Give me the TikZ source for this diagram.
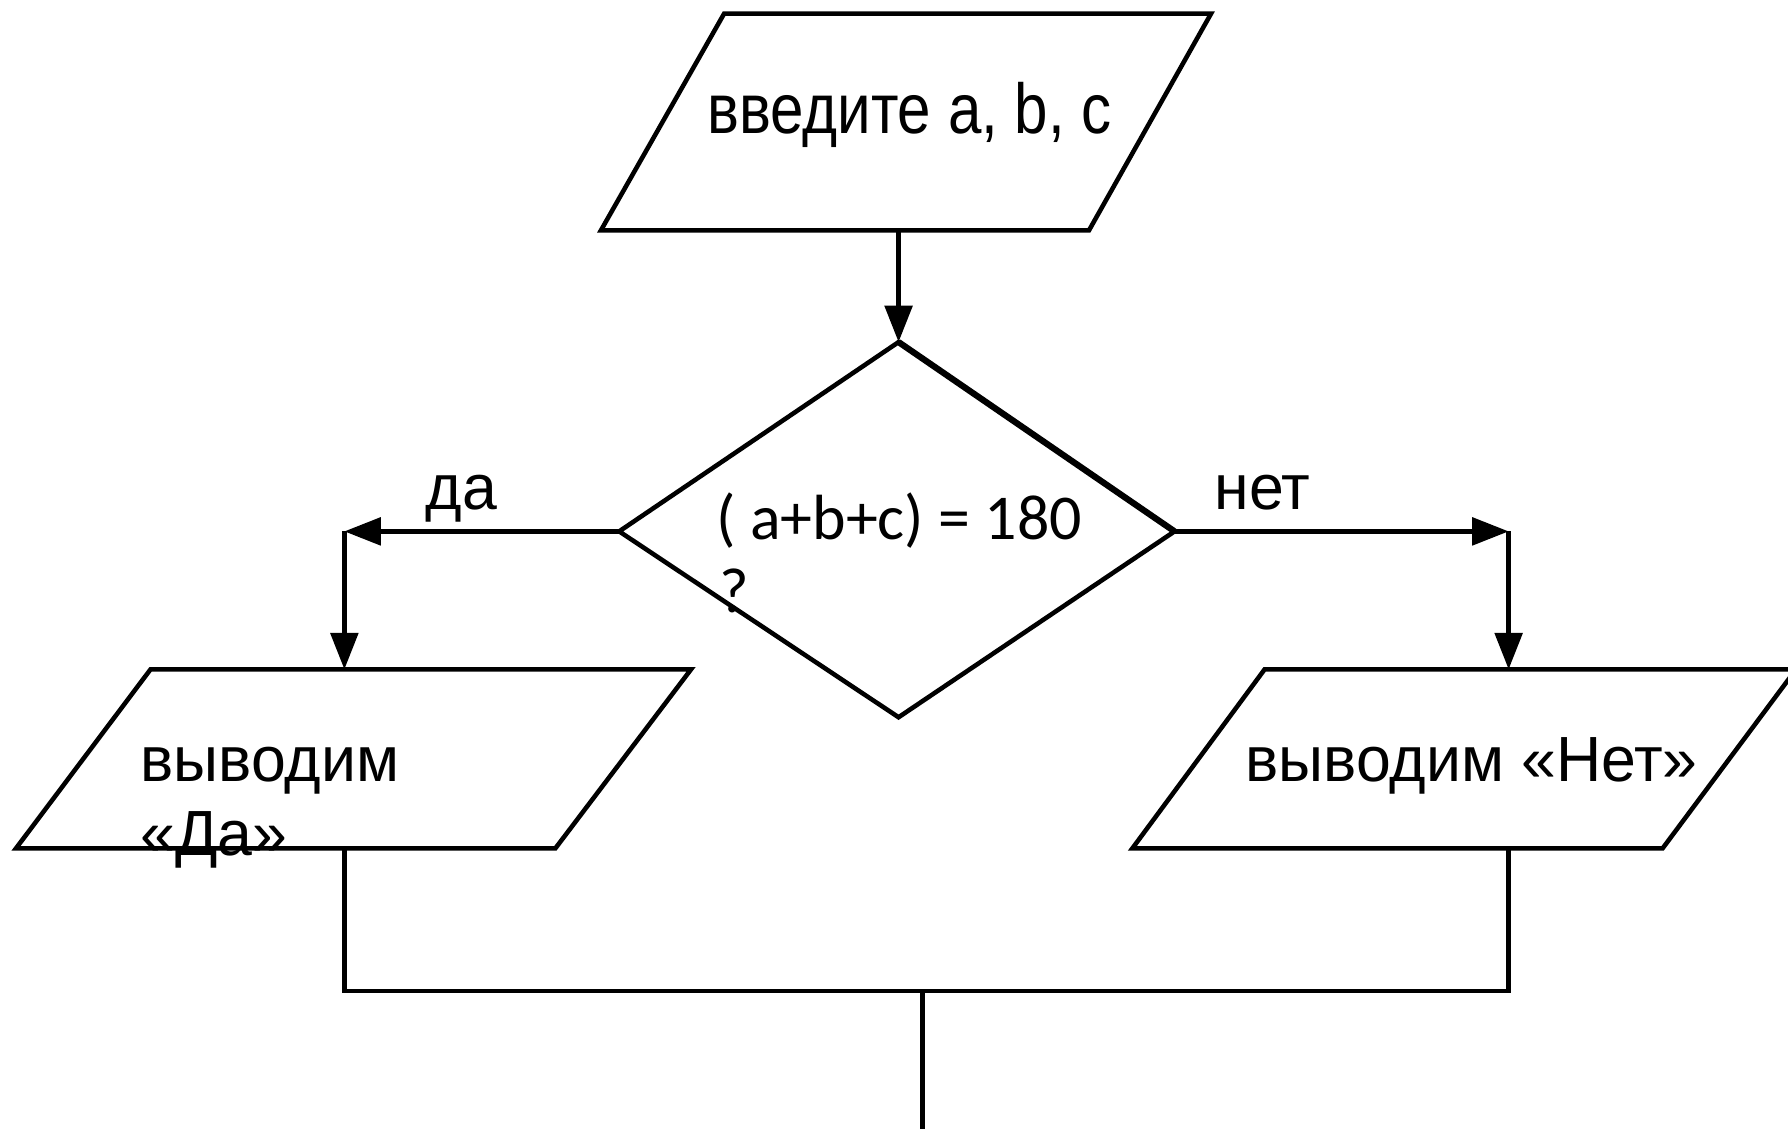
\documentclass[tikz,border=0pt]{standalone}
\usepackage{fontspec}
\setmainfont{Liberation Sans}
\newfontfamily\narrowfont[FakeStretch=0.85]{Liberation Sans}
\newfontfamily\outfont[FakeStretch=0.98]{Liberation Sans}
\newfontfamily\calfont{Carlito}
\usetikzlibrary{arrows.meta}
\begin{document}
\begin{tikzpicture}[x=1pt,y=-1pt,
  shapeline/.style={draw=black, line width=4pt, line join=miter},
  conn/.style={draw=black, line width=4pt},
  arr/.style={-{Triangle[length=32pt,width=24pt]}},
  txt/.style={inner sep=0pt, anchor=base west, font=\narrowfont\fontsize{62}{64}\selectfont},
  outtxt/.style={inner sep=0pt, anchor=base west, font=\outfont\fontsize{56}{60}\selectfont},
  condtxt/.style={inner sep=0pt, anchor=base west, font=\calfont\fontsize{56}{60}\selectfont}]
\useasboundingbox (0,0) rectangle (1568,990);
% input parallelogram
\coordinate (inTL) at (635,12);
\coordinate (inTR) at (1062,12);
\coordinate (inBR) at (955,202);
\coordinate (inBL) at (527,202);
\coordinate (inB) at (788,202);
\draw[shapeline] (inTL) -- (inTR) -- (inBR) -- (inBL) -- cycle;
\node[txt] (intext) at (620,117) {введите a, b, c};
% decision
\coordinate (dT) at (788,300);
\coordinate (dL) at (543,466);
\coordinate (dR) at (1030,466);
\coordinate (dB) at (788,629);
\draw[shapeline] (dT) -- (dR) -- (dB) -- (dL) -- cycle;
\draw[draw=black, line width=5.5pt] (dT) -- (dR);
\draw[conn,arr] (inB) -- (dT);
\node[condtxt] (cond1) at (628,473) {( a+b+c) = 180};
\node[condtxt] (cond2) at (631,537) {?};
% yes branch
\coordinate (yesC) at (302,466);
\coordinate (yesT) at (302,587);
\draw[conn,arr] (dL) -- (yesC);
\draw[conn,arr] (yesC) -- (yesT);
\node[outtxt] (yeslabel) at (373,447) {да};
% no branch
\coordinate (noC) at (1323,466);
\coordinate (noT) at (1323,587);
\draw[conn,arr] (dR) -- (noC);
\draw[conn,arr] (noC) -- (noT);
\node[outtxt] (nolabel) at (1065,447) {нет};
% yes output
\coordinate (yTL) at (132,587);
\coordinate (yTR) at (606,587);
\coordinate (yBR) at (487,744);
\coordinate (yBL) at (14,744);
\coordinate (yesB) at (302,744);
\draw[shapeline] (yTL) -- (yTR) -- (yBR) -- (yBL) -- cycle;
\node[outtxt] (yestext1) at (123,685) {выводим};
\node[outtxt] (yestext2) at (123,750) {«Да»};
% no output
\coordinate (nTL) at (1109,587);
\coordinate (nTR) at (1575,587);
\coordinate (nBR) at (1458,744);
\coordinate (nBL) at (993,744);
\coordinate (noB) at (1323,744);
\draw[shapeline] (nTL) -- (nTR) -- (nBR) -- (nBL) -- cycle;
\node[outtxt] (notext) at (1092,685) {выводим «Нет»};
% merge
\coordinate (mL) at (302,869);
\coordinate (mR) at (1323,869);
\coordinate (mC) at (809,869);
\coordinate (endpt) at (809,995);
\draw[conn] (yesB) -- (mL) -- (mR) -- (noB);
\draw[conn] (mC) -- (endpt);
\end{tikzpicture}
\end{document}
